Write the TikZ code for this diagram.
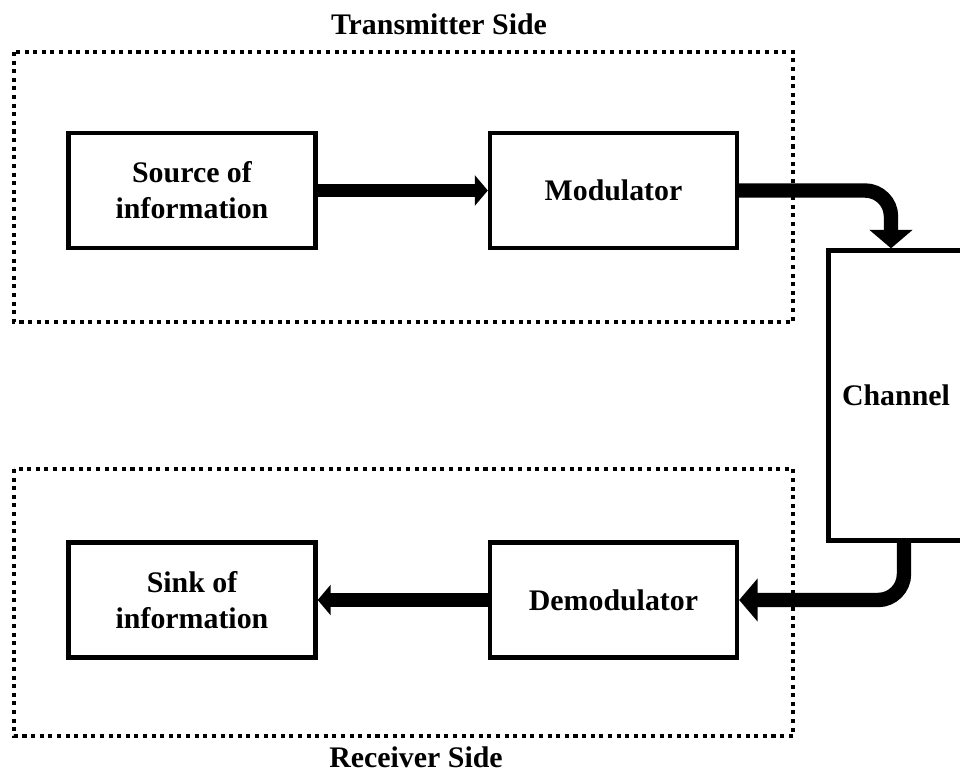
\documentclass[tikz,border=0pt]{standalone}
\usepackage{fontspec}
\setmainfont{Liberation Serif}
\usetikzlibrary{arrows.meta,positioning}
\begin{document}
\begin{tikzpicture}[x=0.02cm,y=-0.02cm,
  txt/.style={font=\fontsize{17}{20.5}\selectfont\bfseries, align=center, inner sep=0pt},
  blk/.style={txt, draw=black, line width=2.5pt, rectangle, minimum width=4.94cm, minimum height=2.3cm},
  grp/.style={draw=black, line width=2.3pt, dash pattern=on 2.3pt off 2.6pt},
  flow/.style={line width=7.6pt, -{Triangle[length=7.4pt,width=17pt]}},
  bigflow/.style={line width=8.2pt, rounded corners=0.52cm, -{Triangle[length=10.5pt,width=24pt]}}
]
\useasboundingbox (0,0) rectangle (960,778);
% group frames
\draw[grp] (14,52) rectangle (793,322);
\draw[grp] (14,469) rectangle (793,736);
\node[txt, anchor=base] (tx) at (439,34) {Transmitter Side};
\node[txt, anchor=base] (rx) at (416,767) {Receiver Side};
% blocks
\node[blk] (src) at (192,190.5) {Source of\\information};
\node[blk] (mod) at (613.5,190.5) {Modulator};
\node[blk] (snk) at (192,600) {Sink of\\information};
\node[blk] (dem) at (613.5,600) {Demodulator};
\node[blk, minimum width=2.7cm, minimum height=5.8cm] (chan) at (896,395.5) {Channel};
% connectors
\draw[flow] (src.east) -- (mod.west);
\draw[flow] (dem.west) -- (snk.east);
\draw[bigflow] (mod.east) -| ([xshift=-0.1cm]chan.north);
\draw[bigflow] ([xshift=0.16cm]chan.south) |- (dem.east);
\end{tikzpicture}
\end{document}
